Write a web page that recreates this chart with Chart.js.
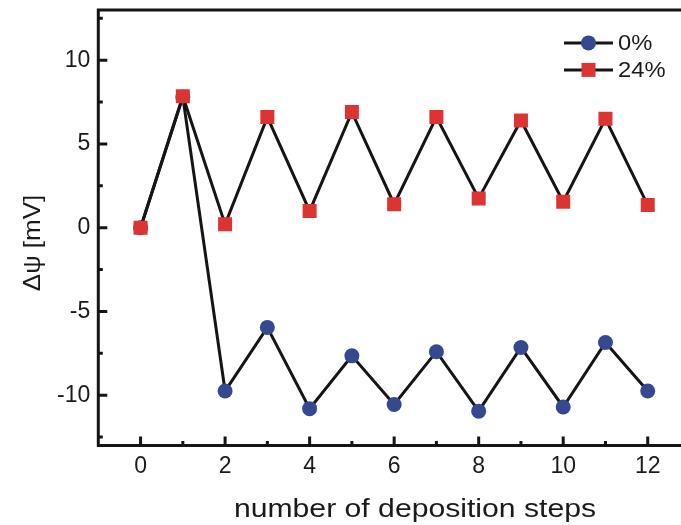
<!DOCTYPE html>
<html>
<head>
<meta charset="utf-8">
<script src="https://cdn.jsdelivr.net/npm/chart.js@4.4.1/dist/chart.umd.min.js"></script>
<style>
  html, body { margin: 0; padding: 0; background: #fff; overflow: hidden; }
  #wrap { width: 681px; height: 525px; overflow: hidden; position: relative; }
  #chart { position: absolute; left: 0; top: 0; }
</style>
</head>
<body>
<div id="wrap"><canvas id="chart" width="700" height="525"></canvas></div>
<script>
// deposition step number
const steps = [0, 1, 2, 3, 4, 5, 6, 7, 8, 9, 10, 11, 12];
// potential change for the two compositions, mV
const dpsi0 = [0, 7.8, -9.75, -5.95, -10.8, -7.65, -10.55, -7.4, -10.95, -7.15, -10.7, -6.85, -9.75];
const dpsi24 = [0, 7.85, 0.2, 6.6, 1.0, 6.9, 1.4, 6.6, 1.75, 6.4, 1.55, 6.5, 1.35];

const seriesNames = ["0%", "24%"];
const xTicks = [0, 2, 4, 6, 8, 10, 12];
const xMinor = [1, 3, 5, 7, 9, 11, 13];
const yTicks = [-10, -5, 0, 5, 10];
const yMinor = [-12.5, -7.5, -2.5, 2.5, 7.5, 12.5];

const blue = "#34498f";
const red = "#dc3431";
const ink = "#151515";
const font = "Liberation Sans, Arial, sans-serif";

// text drawn slightly wider than the font's natural width
function wideText(ctx, text, x, y, align, stretch, angle) {
  ctx.save();
  ctx.translate(x, y);
  if (angle) ctx.rotate(angle);
  ctx.scale(stretch, 1);
  ctx.textAlign = align;
  ctx.textBaseline = "alphabetic";
  ctx.fillText(text, 0, 0);
  ctx.restore();
}

// box frame, inward tick marks, axis titles and legend
const decorations = {
  id: "decorations",
  afterDraw(chart) {
    const { ctx, chartArea: a, scales: { x, y } } = chart;
    ctx.save();
    ctx.strokeStyle = ink;
    ctx.lineWidth = 3;
    ctx.lineCap = "square";
    ctx.beginPath();
    ctx.moveTo(a.left, a.top);
    ctx.lineTo(a.right, a.top);
    ctx.lineTo(a.right, a.bottom);
    ctx.lineTo(a.left, a.bottom);
    ctx.closePath();
    ctx.stroke();

    ctx.lineCap = "butt";
    ctx.beginPath();
    yTicks.forEach(v => { const p = y.getPixelForValue(v); ctx.moveTo(a.left, p); ctx.lineTo(a.left + 9, p); });
    yMinor.forEach(v => { const p = y.getPixelForValue(v); ctx.moveTo(a.left, p); ctx.lineTo(a.left + 4.5, p); });
    xTicks.forEach(v => { const p = x.getPixelForValue(v); ctx.moveTo(p, a.bottom); ctx.lineTo(p, a.bottom - 9); });
    xMinor.forEach(v => { const p = x.getPixelForValue(v); ctx.moveTo(p, a.bottom); ctx.lineTo(p, a.bottom - 4.5); });
    ctx.stroke();

    // axis titles
    ctx.fillStyle = "#1a1a1a";
    ctx.font = "26px " + font;
    wideText(ctx, "number of deposition steps", 415, 517, "center", 1.16);
    ctx.font = "24px " + font;
    wideText(ctx, "\u0394\u03c8 [mV]", 40, 243, "center", 1.08, -Math.PI / 2);

    // legend
    const lx = a.right - 126, ly = a.top + 33;
    seriesNames.forEach((name, i) => {
      const yy = ly + i * 27;
      ctx.strokeStyle = ink;
      ctx.lineWidth = 3;
      ctx.beginPath();
      ctx.moveTo(lx, yy);
      ctx.lineTo(lx + 49, yy);
      ctx.stroke();
      ctx.fillStyle = i === 0 ? blue : red;
      ctx.beginPath();
      if (i === 0) ctx.arc(lx + 24.5, yy, 7.5, 0, Math.PI * 2);
      else ctx.rect(lx + 17.5, yy - 7, 14, 14);
      ctx.fill();
      ctx.fillStyle = "#1a1a1a";
      ctx.font = "22px " + font;
      wideText(ctx, name, lx + 54, yy + 7.5, "left", 1.08);
    });
    ctx.restore();
  }
};

const toPoints = vals => steps.map((s, i) => ({ x: s, y: vals[i] }));

new Chart(document.getElementById("chart"), {
  type: "line",
  data: {
    datasets: [
      {
        label: seriesNames[1],
        data: toPoints(dpsi24),
        borderColor: ink,
        borderWidth: 3,
        pointStyle: "rect",
        pointRadius: 9.9,
        pointBackgroundColor: red,
        pointBorderWidth: 0,
        tension: 0
      },
      {
        label: seriesNames[0],
        data: toPoints(dpsi0),
        borderColor: ink,
        borderWidth: 3,
        pointStyle: "circle",
        pointRadius: 7.5,
        pointBackgroundColor: blue,
        pointBorderWidth: 0,
        tension: 0
      }
    ]
  },
  options: {
    responsive: false,
    animation: false,
    layout: { padding: { top: 7, right: 10, left: 0, bottom: 0 } },
    plugins: { legend: { display: false }, tooltip: { enabled: false } },
    scales: {
      x: {
        type: "linear",
        min: -1,
        max: 13,
        afterBuildTicks: s => { s.ticks = xTicks.map(v => ({ value: v })); },
        afterFit: s => { s.height = 79.5; s.paddingLeft = 0; s.paddingRight = 0; },
        grid: { display: false, drawTicks: false },
        border: { display: false },
        ticks: { padding: 7, color: "#1a1a1a", font: { family: font, size: 23 } }
      },
      y: {
        min: -13,
        max: 13,
        afterBuildTicks: s => { s.ticks = yTicks.map(v => ({ value: v })); },
        afterFit: s => { s.width = 98.3; s.paddingTop = 0; s.paddingBottom = 0; },
        grid: { display: false, drawTicks: false },
        border: { display: false },
        ticks: { padding: 8, color: "#1a1a1a", font: { family: font, size: 23 } }
      }
    }
  },
  plugins: [decorations]
});
</script>
</body>
</html>
